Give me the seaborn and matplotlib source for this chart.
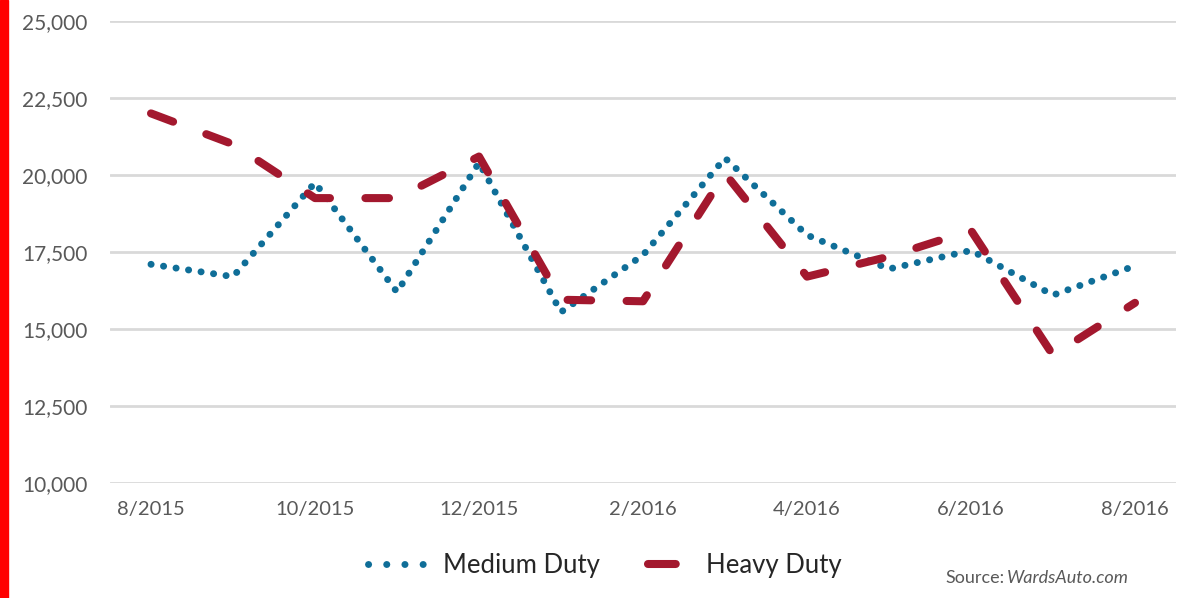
import matplotlib
matplotlib.use("Agg")
import matplotlib.pyplot as plt
import seaborn as sns
import pandas as pd
from matplotlib.lines import Line2D
from matplotlib.patches import Rectangle
from matplotlib.ticker import FuncFormatter

# monthly truck sales, 8/2015 - 8/2016
months = ["8/2015", "9/2015", "10/2015", "11/2015", "12/2015", "1/2016", "2/2016",
          "3/2016", "4/2016", "5/2016", "6/2016", "7/2016", "8/2016"]
medium_duty = [17100, 16700, 19750, 16200, 20400, 15550, 17400,
               20550, 18050, 16950, 17550, 16100, 17050]
heavy_duty = [22000, 21000, 19250, 19250, 20600, 15950, 15900,
              20050, 16700, 17350, 18200, 14150, 15850]
y_ticks = [10000, 12500, 15000, 17500, 20000, 22500, 25000]

BLUE = "#0f6e98"
RED = "#a3182e"
GREY = "#595959"

sns.set_theme(style="white")
plt.rcParams["font.family"] = ["Lato", "DejaVu Sans"]
plt.rcParams["lines.scale_dashes"] = False

df = pd.DataFrame({"pos": range(len(months)), "month": months,
                   "Medium Duty": medium_duty, "Heavy Duty": heavy_duty})

W, H = 1186, 598
fig = plt.figure(figsize=(W / 100, H / 100), dpi=100)
ax = fig.add_axes([110 / W, 1 - 483 / H, (1176 - 110) / W, (483 - 21) / H])

sns.lineplot(data=df, x="pos", y="Medium Duty", ax=ax, color=BLUE, lw=5,
             linestyle=(0, (0.1, 9)), dash_capstyle="round", legend=False)
sns.lineplot(data=df, x="pos", y="Heavy Duty", ax=ax, color=RED, lw=5.8,
             linestyle=(0, (17, 25.5)), dash_capstyle="round",
             dash_joinstyle="round", legend=False)

ax.set_xlim(-0.5, len(months) - 0.5)
ax.set_ylim(10000, 25000)
ax.set_yticks(y_ticks)
ax.yaxis.set_major_formatter(FuncFormatter(lambda v, p: f"{int(v):,}"))
ax.set_xticks(df["pos"][::2])
ax.set_xticklabels(df["month"][::2])
ax.set_xlabel("")
ax.set_ylabel("")
ax.grid(axis="y", color="#d9d9d9", lw=2)
ax.set_axisbelow(True)
sns.despine(ax=ax, left=True, bottom=True)
ax.tick_params(axis="y", length=0, pad=16, labelsize=15, labelcolor=GREY)
ax.tick_params(axis="x", length=0, pad=13, labelsize=14.5, labelcolor=GREY)

# legend with Excel-like samples
h_med = Line2D([], [], color=BLUE, lw=5, linestyle=(0, (0.1, 13)),
               dash_capstyle="round")
h_hvy = Line2D([], [], color=RED, lw=5.8, linestyle=(48.5, (20, 40)),
               dash_capstyle="round")
fig.legend([h_med, h_hvy], ["Medium Duty", "Heavy Duty"], loc="center",
           bbox_to_anchor=(605 / W, 1 - 565 / H), ncol=2, frameon=False,
           fontsize=18.5, handlelength=2.4, handletextpad=0.5,
           columnspacing=1.25, labelcolor="#262626")

fig.text(945 / W, 1 - 578 / H, "Source:", fontsize=13, color=GREY,
         ha="left", va="center")
fig.text(1007 / W, 1 - 578 / H, "WardsAuto.com", fontsize=13, color=GREY,
         ha="left", va="center", style="italic")

fig.patches.append(Rectangle((0, 0), 8 / W, 1, transform=fig.transFigure,
                             color="red", zorder=5))

fig.savefig("out.png", dpi=100)
